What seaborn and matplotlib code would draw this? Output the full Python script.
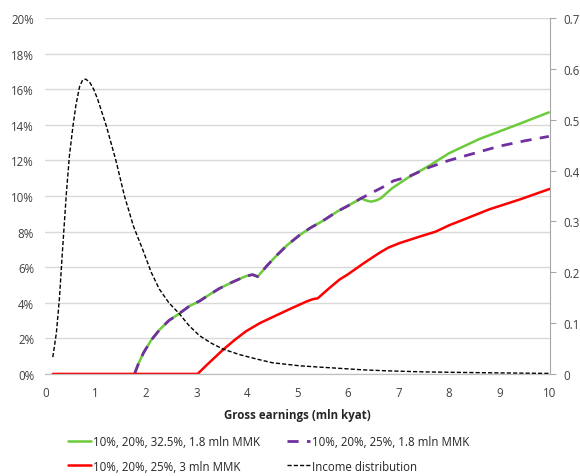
import matplotlib
matplotlib.use("Agg")
import matplotlib.pyplot as plt
import seaborn as sns
import pandas as pd
from matplotlib.ticker import FuncFormatter

sns.set_style("white")
plt.rcParams['font.family'] = ['Open Sans', 'DejaVu Sans']
plt.rcParams['font.size'] = 8.3

# Effective tax rate (%) by gross earnings (mln kyat)
x_green = [1.77, 1.85, 1.95, 2.1, 2.27, 2.45, 2.66, 2.85, 3.06, 3.25, 3.45, 3.7, 3.98, 4.11,
           4.21, 4.4, 4.6, 4.8, 5.04, 5.25, 5.5, 5.63, 5.8, 6.0, 6.26, 6.36, 6.46, 6.56, 6.65,
           6.76, 6.88, 7.2, 7.61, 8.0, 8.6, 9.3, 9.98]
y_green = [0.0, 0.6, 1.2, 1.9, 2.5, 3.0, 3.4, 3.8, 4.1, 4.45, 4.8, 5.15, 5.5, 5.58,
           5.47, 6.1, 6.7, 7.25, 7.8, 8.2, 8.6, 8.84, 9.15, 9.45, 9.87, 9.75, 9.68, 9.75, 9.87,
           10.15, 10.45, 11.05, 11.7, 12.4, 13.2, 13.95, 14.7]

x_purple = [1.77, 1.85, 1.95, 2.1, 2.27, 2.45, 2.66, 2.85, 3.06, 3.25, 3.45, 3.7, 3.98, 4.11,
            4.21, 4.4, 4.6, 4.8, 5.04, 5.25, 5.5, 5.63, 5.8, 6.0, 6.26, 6.69, 6.9, 7.21, 7.6,
            8.0, 8.5, 9.0, 9.5, 9.98]
y_purple = [0.0, 0.6, 1.2, 1.9, 2.5, 3.0, 3.4, 3.8, 4.1, 4.45, 4.8, 5.15, 5.5, 5.58,
            5.47, 6.1, 6.7, 7.25, 7.8, 8.2, 8.6, 8.84, 9.15, 9.45, 9.87, 10.5, 10.85, 11.1, 11.6,
            12.0, 12.4, 12.8, 13.1, 13.35]

x_red = [0.15, 3.02, 3.2, 3.52, 3.75, 3.98, 4.25, 4.51, 4.85, 5.17, 5.3, 5.4, 5.6, 5.83,
         6.0, 6.3, 6.62, 6.8, 7.02, 7.4, 7.74, 8.0, 8.27, 8.8, 9.4, 10.0]
y_red = [0.0, 0.0, 0.5, 1.35, 1.9, 2.4, 2.85, 3.2, 3.65, 4.06, 4.2, 4.25, 4.75, 5.3,
         5.6, 6.2, 6.8, 7.1, 7.35, 7.7, 8.0, 8.35, 8.65, 9.25, 9.8, 10.4]

# Income distribution (right axis)
x_inc = [0.15, 0.22, 0.28, 0.34, 0.42, 0.48, 0.55, 0.61, 0.68, 0.74, 0.8, 0.88, 0.96, 1.04,
         1.21, 1.4, 1.57, 1.75, 1.93, 2.1, 2.26, 2.45, 2.66, 2.85, 3.06, 3.3, 3.52, 3.85,
         4.18, 4.5, 5.04, 5.5, 5.83, 6.3, 6.8, 7.5, 8.2, 9.0, 10.0]
y_inc = [0.033, 0.08, 0.147, 0.24, 0.357, 0.43, 0.488, 0.53, 0.565, 0.578, 0.58, 0.574, 0.56,
         0.54, 0.488, 0.42, 0.35, 0.29, 0.245, 0.2, 0.167, 0.14, 0.118, 0.095, 0.075, 0.06,
         0.049, 0.038, 0.0295, 0.022, 0.016, 0.013, 0.011, 0.008, 0.006, 0.004, 0.003, 0.002,
         0.001]

lbl_green = "10%, 20%, 32.5%, 1.8 mln MMK"
lbl_purple = "10%, 20%, 25%, 1.8 mln MMK"
lbl_red = "10%, 20%, 25%, 3 mln MMK"
lbl_inc = "Income distribution"

fig = plt.figure(figsize=(5.8, 4.77), dpi=100)
ax = fig.add_axes([0.078, 0.214, 0.870, 0.746])

sns.lineplot(x=x_green, y=y_green, ax=ax, color="#6BCB3A", lw=1.8, label=lbl_green)
sns.lineplot(x=x_purple, y=y_purple, ax=ax, color="#7030A0", lw=2.0, label=lbl_purple)
ax.lines[-1].set_linestyle((0, (4, 3)))
sns.lineplot(x=x_red, y=y_red, ax=ax, color="#FF0000", lw=1.8, label=lbl_red)

ax2 = ax.twinx()
sns.lineplot(x=x_inc, y=y_inc, ax=ax2, color="black", lw=1.0, label=lbl_inc)
ax2.lines[-1].set_linestyle((0, (3, 1.5)))

ax.set_xlim(0, 10)
ax.set_ylim(0, 20)
ax2.set_ylim(0, 0.7)
ax.set_xticks(range(0, 11))
ax.set_yticks(range(0, 21, 2))
ax.yaxis.set_major_formatter(FuncFormatter(lambda v, p: f"{v:.0f}%"))
ax2.set_yticks([i / 10 for i in range(8)])
ax2.yaxis.set_major_formatter(FuncFormatter(lambda v, p: "0" if v == 0 else f"{v:.1f}"))

ax.grid(axis='y', color="#D9D9D9", lw=1)
ax.set_axisbelow(True)
for a in (ax, ax2):
    for s in ('top', 'left', 'right'):
        a.spines[s].set_visible(False)
    a.spines['bottom'].set_color("#BFBFBF")
ax2.spines['right'].set_visible(True)
ax2.spines['right'].set_color("#A6A6A6")
ax.tick_params(axis='x', length=0, colors="#404040", pad=9)
ax.tick_params(axis='y', length=0, colors="#404040", pad=8)
ax2.tick_params(axis='y', length=4, color="#A6A6A6", labelcolor="#404040", pad=6)

ax.set_xlabel("Gross earnings (mln kyat)", fontweight='bold', fontsize=8.3, labelpad=6)
ax.set_ylabel("")
ax2.set_ylabel("")

h1, l1 = ax.get_legend_handles_labels()
h2, l2 = ax2.get_legend_handles_labels()
ax.get_legend().remove()
ax2.get_legend().remove()
handles = [h1[0], h1[2], h1[1], h2[0]]
labels = [l1[0], l1[2], l1[1], l2[0]]
fig.legend(handles, labels, ncol=2, loc='upper left', bbox_to_anchor=(68 / 580, 1 - 436 / 477),
           frameon=False, fontsize=8.3, handlelength=2.0, handletextpad=0.2,
           columnspacing=2.3, labelspacing=1.0, borderpad=0, borderaxespad=0)

fig.savefig("out.png", dpi=100)
